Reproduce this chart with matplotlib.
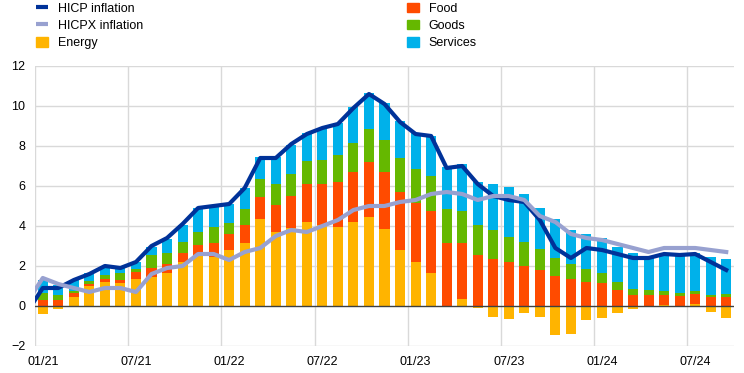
import numpy as np
import matplotlib
matplotlib.use("Agg")
import matplotlib.pyplot as plt
from matplotlib.lines import Line2D
from matplotlib.patches import Patch

plt.rcParams["font.family"] = ["Liberation Sans", "DejaVu Sans"]

# monthly contributions (percentage points), 01/21 - 09/24
energy = [-0.38, -0.15, 0.45, 1.0, 1.2, 1.13, 1.35, 1.45, 1.65, 2.2, 2.5, 2.45,
          2.8, 3.15, 4.35, 3.7, 3.9, 4.2, 4.07, 3.97, 4.2, 4.47, 3.85, 2.8,
          2.2, 1.65, -0.05, 0.35, -0.08, -0.53, -0.63, -0.33, -0.53, -1.43, -1.38, -0.68,
          -0.58, -0.33, -0.13, -0.03, 0.05, 0.02, 0.1, -0.28, -0.58]
food = [0.30, 0.30, 0.18, 0.12, 0.13, 0.17, 0.37, 0.45, 0.45, 0.47, 0.55, 0.68,
        0.8, 0.9, 1.1, 1.35, 1.62, 1.92, 2.05, 2.25, 2.52, 2.75, 2.87, 2.92,
        2.95, 3.1, 3.15, 2.8, 2.55, 2.35, 2.22, 2.02, 1.82, 1.52, 1.35, 1.22,
        1.15, 0.82, 0.55, 0.55, 0.5, 0.5, 0.52, 0.45, 0.45]
goods = [0.33, 0.23, 0.10, 0.13, 0.2, 0.33, 0.13, 0.65, 0.55, 0.53, 0.65, 0.8,
         0.53, 0.8, 0.9, 1.07, 1.1, 1.13, 1.2, 1.33, 1.43, 1.63, 1.6, 1.7,
         1.7, 1.77, 1.7, 1.6, 1.5, 1.47, 1.23, 1.2, 1.03, 0.9, 0.77, 0.63,
         0.5, 0.4, 0.3, 0.27, 0.2, 0.13, 0.13, 0.1, 0.17]
services = [0.67, 0.52, 0.57, 0.38, 0.49, 0.3, 0.33, 0.4, 0.7, 0.85, 1.2, 1.0,
            0.97, 1.03, 1.08, 1.31, 1.43, 1.38, 1.56, 1.58, 1.78, 1.78, 1.81, 1.83,
            1.8, 2.0, 2.1, 2.33, 2.15, 2.28, 2.5, 2.38, 2.05, 1.93, 1.68, 1.75,
            1.75, 1.75, 1.78, 1.65, 1.88, 1.85, 1.88, 1.9, 1.73]

# headline lines, first value is 12/20 (clipped at the left edge)
hicp = [-0.3,
        0.9, 0.9, 1.3, 1.6, 2.0, 1.9, 2.2, 3.0, 3.4, 4.1, 4.9, 5.0,
        5.1, 5.9, 7.4, 7.4, 8.1, 8.6, 8.9, 9.1, 9.9, 10.6, 10.1, 9.2,
        8.6, 8.5, 6.9, 7.0, 6.1, 5.5, 5.3, 5.2, 4.3, 2.9, 2.4, 2.9,
        2.8, 2.6, 2.4, 2.4, 2.6, 2.55, 2.6, 2.2, 1.8]
hicpx = [0.2,
         1.4, 1.1, 0.9, 0.7, 0.9, 0.9, 0.7, 1.6, 1.9, 2.0, 2.6, 2.6,
         2.3, 2.7, 2.9, 3.5, 3.8, 3.7, 4.0, 4.3, 4.8, 5.0, 5.0, 5.2,
         5.3, 5.6, 5.7, 5.6, 5.3, 5.5, 5.5, 5.3, 4.5, 4.2, 3.6, 3.4,
         3.3, 3.1, 2.9, 2.7, 2.9, 2.9, 2.9, 2.8, 2.7]

tick_labels = ["01/21", "07/21", "01/22", "07/22", "01/23", "07/23", "01/24", "07/24"]

c_hicp = "#003299"
c_hicpx = "#98a1d0"
c_energy = "#ffb400"
c_food = "#ff4b00"
c_goods = "#65b800"
c_serv = "#00b1ea"

n = len(energy)
x = np.arange(n)
x_line = np.arange(-1, n)

fig = plt.figure(figsize=(7.44, 3.73), dpi=100)
ax = fig.add_axes([35 / 744, 27 / 373, 699 / 744, 280 / 373])

# stacked bars, negatives stacked downward
pos = np.zeros(n)
neg = np.zeros(n)
for vals, col in [(energy, c_energy), (food, c_food), (goods, c_goods), (services, c_serv)]:
    v = np.array(vals)
    bottom = np.where(v >= 0, pos, neg)
    ax.bar(x, v, bottom=bottom, width=0.65, color=col, zorder=2, linewidth=0)
    pos = pos + np.where(v >= 0, v, 0)
    neg = neg + np.where(v < 0, v, 0)

ax.axhline(0, color="#404040", lw=1, zorder=3)
ax.plot(x_line, hicp, color=c_hicp, lw=3, zorder=4)
ax.plot(x_line, hicpx, color=c_hicpx, lw=3, zorder=5)

ax.set_xlim(-0.5, n - 0.5)
ax.set_ylim(-2, 12)
ax.set_yticks(np.arange(-2, 13, 2))
ticks = np.arange(0, n, 6)
ax.set_xticks(ticks)
ax.set_xticklabels(tick_labels)
for t in ticks:
    ax.axvline(t - 0.5, color="#d9d9d9", lw=1, zorder=0)
for yv in np.arange(-2, 13, 2):
    if yv != 0:
        ax.axhline(yv, color="#d9d9d9", lw=1, zorder=0)
for s in ax.spines.values():
    s.set_visible(False)
ax.tick_params(length=0, labelsize=9, colors="#000000")
ax.tick_params(axis="y", pad=7)
ax.tick_params(axis="x", pad=7)

h1 = [Line2D([], [], color=c_hicp, lw=3, solid_capstyle="butt"),
      Line2D([], [], color=c_hicpx, lw=3, solid_capstyle="butt"),
      Patch(color=c_energy)]
h2 = [Patch(color=c_food), Patch(color=c_goods), Patch(color=c_serv)]
kw = dict(loc="upper left", frameon=False, borderaxespad=0, borderpad=0,
          handlelength=0.95, handleheight=0.8, handletextpad=0.8,
          labelspacing=0.42, fontsize=9)
fig.legend(h1, ["HICP inflation", "HICPX inflation", "Energy"],
           bbox_to_anchor=(36 / 744, 1 - 2.5 / 373), **kw)
fig.legend(h2, ["Food", "Goods", "Services"],
           bbox_to_anchor=(407 / 744, 1 - 2.5 / 373), **kw)

fig.savefig("out.png", dpi=100)
